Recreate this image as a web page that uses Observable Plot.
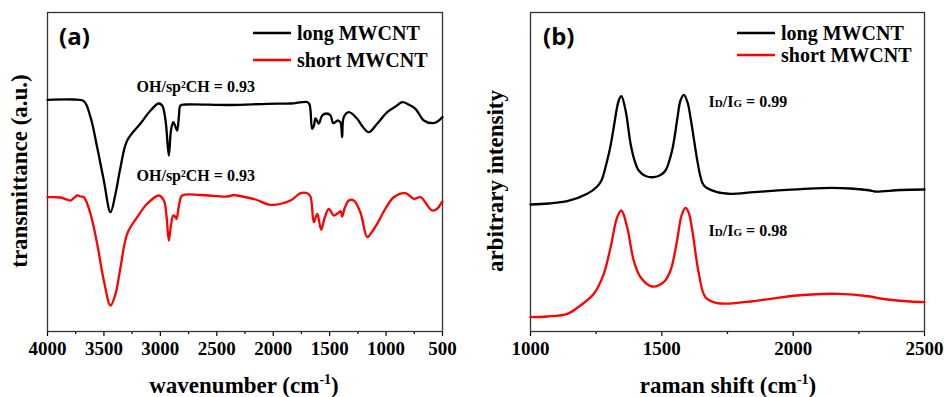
<!DOCTYPE html>
<html><head><meta charset="utf-8">
<script src="https://cdn.jsdelivr.net/npm/d3@7"></script>
<script src="https://cdn.jsdelivr.net/npm/@observablehq/plot@0.6"></script>
<style>
body{margin:0;background:#fff;}
#wrap{display:flex;width:944px;height:397px;}
svg{display:block}
svg text{font-family:"Liberation Serif",serif !important;}
svg text.sans{font-family:"Open Sans",sans-serif !important;}
</style></head><body><div id="wrap"></div>
<script>
// ---------- FTIR (a) ----------
const ftirLongWn = [4000,3770,3678,3619,3560,3501,3442,3397,3353,3294,3176,3087,3016,2984,2954,2925,2906,2886,2870,2851,2835,2822,2777,2378,2053,1847,1699,1678,1655,1639,1625,1596,1566,1528,1492,1468,1428,1404,1389,1375,1330,1256,1209,1153,1079,990,916,857,801,739,666,591,544,500];
const ftirLongT  = [231.7,232,230.3,214.3,184.3,151,119.3,138,164.3,191,208,221,228,226,211,176,201,209.3,206,201,216,226,227,226.5,227.7,228,229.5,227,202.7,206,213,208,216,218,216,208.3,211,209,194.3,214.3,219.3,212.7,205,199.3,207.7,219.3,225,229.3,227,222.7,211,208.3,210,214.5];
const ftirShortWn = [4000,3885,3796,3770,3737,3708,3678,3619,3560,3501,3442,3397,3353,3294,3205,3117,3014,2969,2946,2925,2906,2886,2870,2857,2835,2806,2644,2408,2352,2319,2157,2024,1847,1758,1699,1670,1640,1610,1575,1546,1507,1463,1430,1404,1389,1368,1330,1286,1227,1167,1129,1079,1005,932,828,754,695,591,544,512,500];
const ftirShortT  = [134.3,134,131,133,136,135,134.3,117.7,87.7,51,26,37.7,64.3,97.7,114.3,127.7,136,131,116,91,106,116,115,112.7,126,136,136.5,135,136.5,136,132,126.7,131,138.3,138.3,135,109.3,117.7,101.7,113,122.7,116,118,120.3,115,123,131,131,119,94.3,99,107.7,123,134.3,138.3,132.7,134.3,121,123,128.3,130];
const ftirMajor = [4000,3500,3000,2500,2000,1500,1000,500];
const ftirMinor = [3750,3250,2750,2250,1750,1250,750];
const ftirNoteX = [3211,3211];
const ftirNoteY = [245,156];
const ftirNoteText = ["OH/sp²CH = 0.93","OH/sp²CH = 0.93"];

// ---------- Raman (b) ----------
const ramanLongShift = [1000,1069,1140,1216,1254,1270,1292,1305,1317,1336,1346,1362,1381,1396,1412,1438,1469,1495,1514,1539,1558,1571,1584,1598,1609,1635,1647,1660,1711,1761,1850,1977,2142,2218,2294,2310,2409,2500];
const ramanLongI     = [127,128,130.3,137.7,145,151,171,186,204.3,231,235.3,221,187.7,171,161,155.5,154.3,156.5,161,181,211,231,236.7,229,214.3,171,155,146,139.3,137.7,139.3,141.7,143.7,143,141,140,141.5,142];
const ramanShortShift = [1000,1064,1140,1190,1241,1279,1305,1330,1346,1368,1393,1419,1463,1507,1533,1558,1575,1590,1602,1616,1641,1666,1711,1812,1914,2015,2168,2294,2332,2396,2447,2500];
const ramanShortI     = [14.3,15,17.7,26,37.7,57.7,84.3,114.3,121,104.3,71,54.3,45,49.3,61,91,116,123.7,119,101,57.7,34.3,28.3,29.3,32.7,36,37.7,35,33,31,30,29.3];
const ramanMajor = [1000,1500,2000,2500];
const ramanMinor = [1250,1750,2250];
const ramanNoteX = [1678,1678];
const ramanNoteY = [229.3,101];
const ramanNoteText = ["ID/IG = 0.99","ID/IG = 0.98"];

const seriesNames = ["long MWCNT","short MWCNT"];
const seriesColors = ["#000000","#ff0000"];

const toTable = (xs, ys) => xs.map((x,i)=>({x, y: ys[i]}));
const noteTable = (xs, ys, ts) => xs.map((x,i)=>({x, y: ys[i], t: ts[i]}));

const serif = "Liberation Serif";

function panel(opts){
  const {width, ml, mr, xDomain, major, minor, longT, shortT, notes, letter, letterX, xTitle, xTitleX, yTitle, yTitleX, yTitleY, legX, legY} = opts;
  const svg = Plot.plot({
    width, height: 397,
    marginLeft: ml, marginRight: mr, marginTop: 12, marginBottom: 66,
    style: {fontFamily: serif, fontSize: "19px", fontWeight: "bold", color: "#000", background: "white", overflow: "visible"},
    x: {domain: xDomain, label: null},
    y: {domain: [0, 319], axis: null, label: null},
    marks: [
      Plot.axisX({ticks: minor, tickSize: 3, tickFormat: () => "", label: null, strokeWidth: 1.2}),
      Plot.axisX({ticks: major, tickSize: 5, tickPadding: 5, tickFormat: d => String(d), label: null,
        fontFamily: serif, fontSize: 19, fontWeight: "bold", strokeWidth: 1.2}),
      Plot.frame({stroke: "#333", strokeWidth: 1.3}),
      Plot.line(longT, {x: "x", y: "y", stroke: seriesColors[0], strokeWidth: 2.3, curve: "catmull-rom"}),
      Plot.line(shortT, {x: "x", y: "y", stroke: seriesColors[1], strokeWidth: 2.3, curve: "catmull-rom"}),
      Plot.text(notes, {x: "x", y: "y", text: "t", textAnchor: "start", fontFamily: serif, fontSize: 16, fontWeight: "bold", fill: "#000"})
    ]
  });
  const s = d3.select(svg);
  s.attr("font-family", serif);
  // ID/IG small caps subscripts
  s.selectAll("text").each(function(){
    const t = this.textContent;
    if (/^ID\/IG/.test(t)) {
      const rest = t.replace(/^ID\/IG/, "");
      const el = d3.select(this); el.text("");
      el.append("tspan").text("I");
      el.append("tspan").attr("font-size", 11).text("D");
      el.append("tspan").text("/I");
      el.append("tspan").attr("font-size", 11).text("G");
      el.append("tspan").text(rest);
    }
  });
  const g = s.append("g").attr("font-family", serif).attr("font-weight", "bold").attr("fill", "#000")
    .attr("text-anchor", "start");
  // panel letter
  g.append("text").attr("class", "sans").attr("x", letterX).attr("y", 45)
    .attr("font-size", 24).attr("font-weight", 700).text(letter);
  // x title
  const xt = g.append("text").attr("x", xTitleX).attr("y", 393).attr("text-anchor", "middle").attr("font-size", 23);
  xt.append("tspan").text(xTitle + " (cm");
  xt.append("tspan").attr("dy", -9).attr("font-size", 14).text("-1");
  xt.append("tspan").attr("dy", 9).text(")");
  // y title
  g.append("text").attr("transform", `translate(${yTitleX},${yTitleY}) rotate(-90)`)
    .attr("text-anchor", "middle").attr("font-size", 23).text(yTitle);
  // legend
  seriesNames.forEach((name, i) => {
    g.append("line").attr("x1", legX).attr("x2", legX + 38).attr("y1", legY[i]).attr("y2", legY[i])
      .attr("stroke", seriesColors[i]).attr("stroke-width", 2.3);
    g.append("text").attr("x", legX + 44).attr("y", legY[i] + 7).attr("font-size", 20).text(name);
  });
  return svg;
}

const wrap = document.getElementById("wrap");
wrap.appendChild(panel({
  width: 470, ml: 47, mr: 28, xDomain: [4000, 500], major: ftirMajor, minor: ftirMinor,
  longT: toTable(ftirLongWn, ftirLongT), shortT: toTable(ftirShortWn, ftirShortT),
  notes: noteTable(ftirNoteX, ftirNoteY, ftirNoteText),
  letter: "(a)", letterX: 59, xTitle: "wavenumber", xTitleX: 244,
  yTitle: "transmittance (a.u.)", yTitleX: 27, yTitleY: 171, legX: 253, legY: [33, 60]
}));
wrap.appendChild(panel({
  width: 474, ml: 60, mr: 20, xDomain: [1000, 2500], major: ramanMajor, minor: ramanMinor,
  longT: toTable(ramanLongShift, ramanLongI), shortT: toTable(ramanShortShift, ramanShortI),
  notes: noteTable(ramanNoteX, ramanNoteY, ramanNoteText),
  letter: "(b)", letterX: 73, xTitle: "raman shift", xTitleX: 258,
  yTitle: "arbitrary intensity", yTitleX: 33, yTitleY: 181, legX: 267, legY: [33, 55]
}));
</script></body></html>
